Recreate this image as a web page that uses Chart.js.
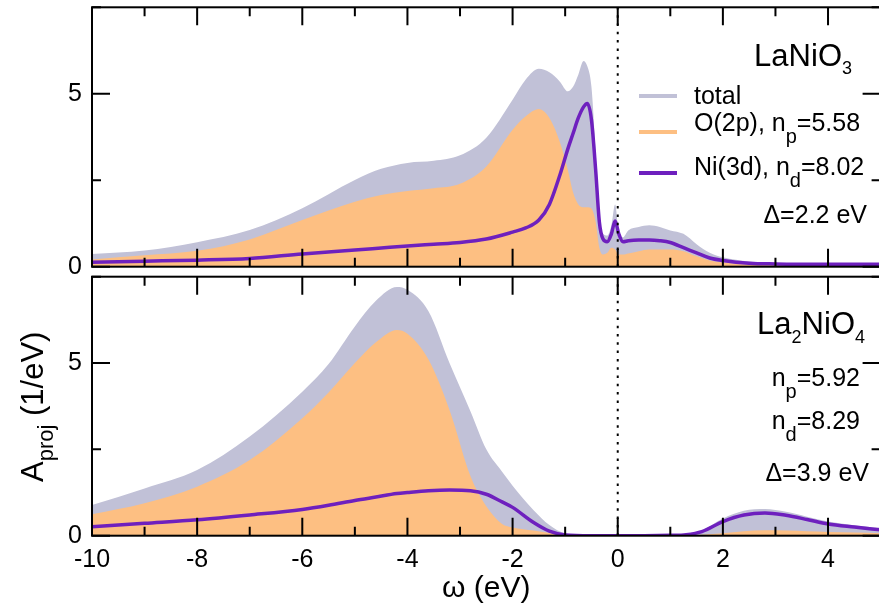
<!DOCTYPE html>
<html>
<head>
<meta charset="utf-8">
<script src="https://cdn.jsdelivr.net/npm/chart.js@4/dist/chart.umd.min.js"></script>
<style>
  html, body { margin: 0; padding: 0; background: #fff; overflow: hidden; width: 879px; height: 607px; }
  canvas { position: absolute; left: 0; top: 0; }
</style>
</head>
<body>
<canvas id="topChart" width="890" height="607"></canvas>
<canvas id="bottomChart" width="890" height="607"></canvas>
<script>
// LaNiO3 panel
const omegaTop = [-10, -9, -8, -7, -6, -5, -4.5, -4, -3.5, -3, -2.5, -2, -1.75, -1.5, -1.3, -1.1, -0.95, -0.85, -0.75,
    -0.65, -0.58, -0.5, -0.42, -0.35, -0.28, -0.2, -0.12, -0.05, 0.02, 0.1, 0.2, 0.4, 0.6, 0.8, 1.0, 1.25, 1.5,
    1.75, 2.0, 2.5, 3, 4, 5];
const totalTop = [0.37, 0.47, 0.71, 1.06, 1.69, 2.51, 2.83, 3.0, 3.06, 3.22, 3.73, 4.83, 5.41, 5.72, 5.62, 5.35, 5.07, 5.2, 5.55,
    5.95, 5.8, 5.2, 3.3, 1.4, 0.95, 0.9, 1.2, 1.8, 1.0, 0.85, 1.05, 1.15, 1.2, 1.15, 1.05, 0.95, 0.65,
    0.4, 0.27, 0.15, 0.11, 0.08, 0.07];
const o2pTop = [0.21, 0.33, 0.46, 0.79, 1.35, 1.88, 2.07, 2.19, 2.27, 2.4, 2.9, 3.96, 4.35, 4.56, 4.3, 3.6, 2.8, 2.15, 1.8,
    1.72, 1.72, 1.68, 1.3, 0.55, 0.35, 0.4, 0.55, 0.5, 0.35, 0.35, 0.38, 0.45, 0.5, 0.5, 0.5, 0.45, 0.3,
    0.18, 0.12, 0.06, 0.04, 0.03, 0.03];
const ni3dTop = [0.13, 0.16, 0.19, 0.24, 0.37, 0.48, 0.54, 0.6, 0.65, 0.7, 0.8, 1.0, 1.12, 1.35, 1.8, 2.65, 3.4, 3.85, 4.3,
    4.62, 4.72, 4.25, 2.8, 1.3, 0.8, 0.72, 0.95, 1.32, 0.95, 0.72, 0.75, 0.77, 0.77, 0.75, 0.7, 0.55, 0.4,
    0.25, 0.18, 0.1, 0.08, 0.07, 0.07];

// La2NiO4 panel
const omegaBottom = [-10, -9, -8, -7, -6, -5.5, -5, -4.6, -4.2, -4, -3.6, -3.2, -2.8, -2.5, -2.2, -2, -1.6, -1.3, -1,
    -0.5, 0, 0.5, 1, 1.3, 1.6, 2, 2.4, 2.8, 3.2, 3.6, 4, 4.5, 5];
const totalBottom = [0.89, 1.37, 1.9, 2.87, 4.17, 4.97, 6.06, 6.8, 7.2, 7.12, 6.5, 5.0, 3.6, 2.5, 1.85, 1.45, 0.74, 0.31, 0.07,
    0.01, 0, 0, 0.01, 0.04, 0.15, 0.5, 0.72, 0.77, 0.69, 0.55, 0.41, 0.3, 0.21];
const o2pBottom = [0.62, 0.94, 1.42, 2.19, 3.4, 4.15, 5.0, 5.6, 5.96, 5.85, 5.1, 3.64, 1.72, 0.85, 0.34, 0.24, 0.15, 0.08, 0.03,
    0, 0, 0, 0, 0.01, 0.03, 0.07, 0.13, 0.16, 0.15, 0.13, 0.11, 0.09, 0.07];
const ni3dBottom = [0.26, 0.36, 0.46, 0.6, 0.76, 0.88, 1.02, 1.12, 1.22, 1.25, 1.3, 1.32, 1.3, 1.2, 0.98, 0.82, 0.38, 0.13, 0.02,
    0, 0, 0, 0.01, 0.03, 0.12, 0.41, 0.6, 0.66, 0.59, 0.47, 0.34, 0.25, 0.17];

const xMajor = [-10, -8, -6, -4, -2, 0, 2, 4];
const xMinor = [-9, -7, -5, -3, -1, 1, 3, 5];
const yMajor = [0, 5];
const yMinor = [2.5, 7.5];
const fermiLine = [0, 7.5];

const FONT = '"Liberation Sans", Arial, Helvetica, sans-serif';
const lavender = '#c1c1d7';
const orange = '#fdbf82';
const indigo = '#6e20be';

const toPts = (xs, ys) => xs.map((x, i) => ({ x: x, y: ys[i] }));

// draws text made of pieces (normal + subscripts) on one baseline
function drawRich(ctx, parts, x, baseline, align) {
    let width = 0;
    parts.forEach(p => {
        ctx.font = p[1] + 'px ' + FONT;
        width += ctx.measureText(p[0]).width;
    });
    let cx = align === 'right' ? x - width : x;
    ctx.textAlign = 'left';
    ctx.textBaseline = 'alphabetic';
    parts.forEach(p => {
        ctx.font = p[1] + 'px ' + FONT;
        ctx.fillText(p[0], cx, baseline + p[2]);
        cx += ctx.measureText(p[0]).width;
    });
}

const frameTicks = {
    id: 'frameTicks',
    afterDatasetsDraw(chart, args, opts) {
        const { ctx, chartArea: a, scales: { x, y } } = chart;
        ctx.save();
        ctx.strokeStyle = '#000';
        ctx.lineWidth = 2;
        ctx.beginPath();
        const tick = (vals, len) => {
            vals.forEach(v => {
                const px = x.getPixelForValue(v);
                ctx.moveTo(px, a.bottom); ctx.lineTo(px, a.bottom - len);
                ctx.moveTo(px, a.top); ctx.lineTo(px, a.top + len);
            });
        };
        const ytick = (vals, len) => {
            vals.forEach(v => {
                const py = y.getPixelForValue(v);
                ctx.moveTo(a.left, py); ctx.lineTo(a.left + len, py);
                ctx.moveTo(a.right, py); ctx.lineTo(a.right - len, py);
            });
        };
        tick(xMajor, 18);
        tick(xMinor, 9);
        ytick(yMajor, 18);
        ytick(yMinor, 9);
        ctx.stroke();
        ctx.strokeRect(a.left, a.top, a.right - a.left, a.bottom - a.top);

        // legend samples
        (opts.legend || []).forEach(item => {
            const ds = chart.data.datasets[item.index];
            ctx.strokeStyle = ds.fill ? ds.backgroundColor : ds.borderColor;
            ctx.lineWidth = 4;
            ctx.beginPath();
            ctx.moveTo(639, item.lineY);
            ctx.lineTo(677, item.lineY);
            ctx.stroke();
        });

        ctx.fillStyle = '#000';
        (opts.texts || []).forEach(t => drawRich(ctx, t.parts, t.x, t.y, t.align));

        if (opts.yTitle) {
            ctx.translate(43, 482);
            ctx.rotate(-Math.PI / 2);
            drawRich(ctx, [['A', 31, 0], ['proj', 22, 10], [' (1/eV)', 31, 0]], 0, 0, 'left');
        }
        ctx.restore();
    }
};

function makeDatasets(xs, total, o2p, ni3d) {
    return [
        {
            label: 'total', data: toPts(xs, total), backgroundColor: lavender, borderColor: lavender,
            borderWidth: 0, fill: 'origin', pointRadius: 0, cubicInterpolationMode: 'monotone', order: 3
        },
        {
            label: 'O(2p)', data: toPts(xs, o2p), backgroundColor: orange, borderColor: orange,
            borderWidth: 0, fill: 'origin', pointRadius: 0, cubicInterpolationMode: 'monotone', order: 2
        },
        {
            label: 'Ni(3d)', data: toPts(xs, ni3d), borderColor: indigo, borderWidth: 3.5,
            fill: false, pointRadius: 0, cubicInterpolationMode: 'monotone', order: 1
        },
        {
            label: 'EF', data: fermiLine.map(v => ({ x: 0, y: v })), borderColor: '#000', borderWidth: 2,
            borderDash: [2.5, 5.8], fill: false, pointRadius: 0, order: 0
        }
    ];
}

function makeOptions(isBottom, frameOpts) {
    return {
        responsive: false,
        animation: false,
        layout: {
            padding: isBottom
                ? { left: 0, right: 9.4, top: 276.7, bottom: 0 }
                : { left: 0, right: 9.4, top: 7.3, bottom: 340.3 }
        },
        plugins: { legend: { display: false }, tooltip: { enabled: false }, frameTicks: frameOpts },
        scales: {
            x: {
                type: 'linear', min: -10, max: 5, display: isBottom,
                afterBuildTicks: s => { s.ticks = xMajor.map(v => ({ value: v })); },
                afterFit: s => { s.height = isBottom ? 71.3 : 0; s.paddingLeft = 0; s.paddingRight = 0; },
                grid: { display: false, drawTicks: false }, border: { display: false },
                ticks: { padding: 9, color: '#000', font: { family: FONT, size: 25 } },
                title: {
                    display: true, text: 'ω (eV)', color: '#000',
                    font: { family: FONT, size: 30 }, padding: { top: 0, bottom: 0 }
                }
            },
            y: {
                min: 0, max: 7.5,
                afterBuildTicks: s => { s.ticks = yMajor.map(v => ({ value: v })); },
                afterFit: s => { s.width = 92; s.paddingTop = 0; s.paddingBottom = 0; },
                grid: { display: false, drawTicks: false }, border: { display: false },
                ticks: { padding: 10, color: '#000', font: { family: FONT, size: 25 } }
            }
        }
    };
}

new Chart(document.getElementById('topChart'), {
    type: 'line',
    data: { datasets: makeDatasets(omegaTop, totalTop, o2pTop, ni3dTop) },
    options: makeOptions(false, {
        legend: [{ index: 0, lineY: 96 }, { index: 1, lineY: 132 }, { index: 2, lineY: 173 }],
        texts: [
            { x: 852, y: 66, align: 'right', parts: [['LaNiO', 31, 0], ['3', 18, 8]] },
            { x: 694, y: 104, align: 'left', parts: [['total', 25, 0]] },
            { x: 694, y: 131, align: 'left', parts: [['O(2p), n', 25, 0], ['p', 20, 12], ['=5.58', 25, 0]] },
            { x: 694, y: 175, align: 'left', parts: [['Ni(3d), n', 25, 0], ['d', 20, 12], ['=8.02', 25, 0]] },
            { x: 867, y: 223, align: 'right', parts: [['Δ=2.2 eV', 25, 0]] }
        ]
    }),
    plugins: [frameTicks]
});

new Chart(document.getElementById('bottomChart'), {
    type: 'line',
    data: { datasets: makeDatasets(omegaBottom, totalBottom, o2pBottom, ni3dBottom) },
    options: makeOptions(true, {
        yTitle: true,
        texts: [
            { x: 865, y: 334, align: 'right', parts: [['La', 31, 0], ['2', 18, 9], ['NiO', 31, 0], ['4', 18, 9]] },
            { x: 860, y: 386, align: 'right', parts: [['n', 25, 0], ['p', 20, 12], ['=5.92', 25, 0]] },
            { x: 860, y: 429, align: 'right', parts: [['n', 25, 0], ['d', 20, 12], ['=8.29', 25, 0]] },
            { x: 869, y: 481, align: 'right', parts: [['Δ=3.9 eV', 25, 0]] }
        ]
    }),
    plugins: [frameTicks]
});
</script>
</body>
</html>
